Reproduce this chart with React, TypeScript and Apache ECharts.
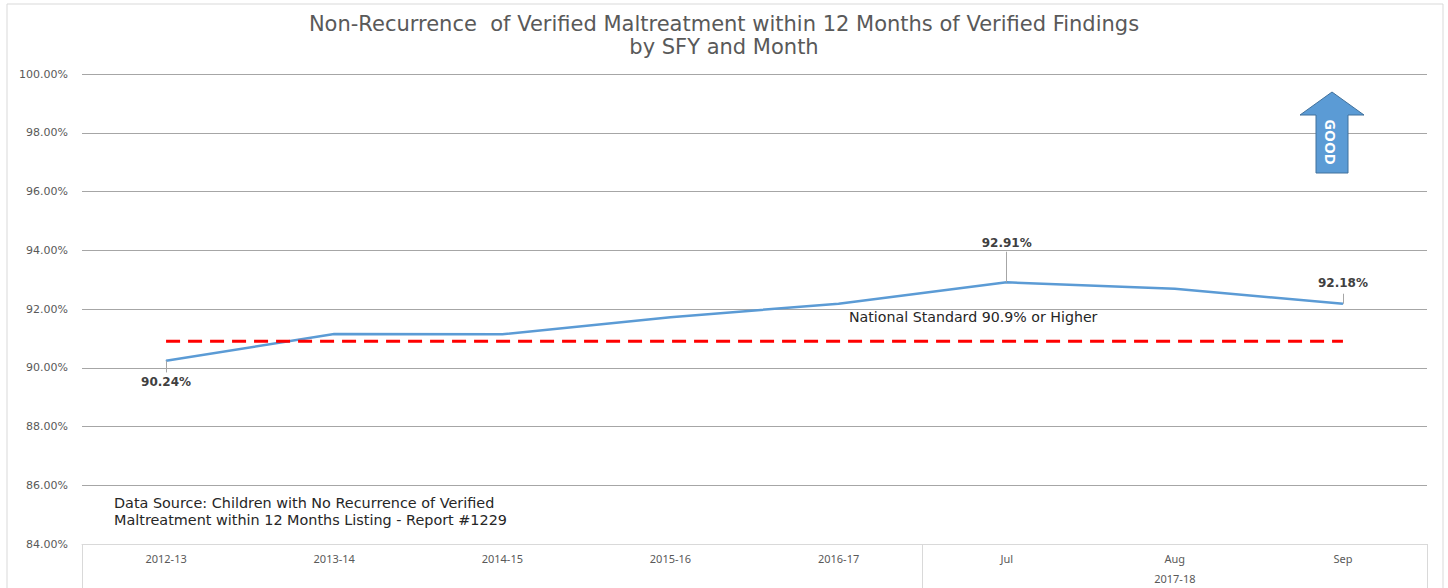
import React, { useEffect, useRef } from "react";
import * as echarts from "echarts";

const categories = ["2012-13", "2013-14", "2014-15", "2015-16", "2016-17", "Jul", "Aug", "Sep"];
const groupLabels = ["", "", "", "", "", "", "2017-18", ""];
const rateValues = [90.24, 91.15, 91.14, 91.72, 92.18, 92.91, 92.69, 92.18];
const nationalStandard = [90.9, 90.9, 90.9, 90.9, 90.9, 90.9, 90.9, 90.9];
const labelledIndices = [0, 5, 7];
const yTicks = { min: 84, max: 100, interval: 2 };

const FONT = "'Noto Sans', 'Open Sans', sans-serif";
const WIDE = "'DejaVu Sans', 'Noto Sans', sans-serif";

export default function App() {
  const ref = useRef<HTMLDivElement>(null);

  useEffect(() => {
    if (!ref.current) return;
    const chart = echarts.init(ref.current, null, { renderer: "svg" });

    const labelCfg: Record<number, { position: string; distance: number; leaderTo: number }> = {
      0: { position: "bottom", distance: 15, leaderTo: -0.4 },
      5: { position: "top", distance: 33, leaderTo: 1.04 },
      7: { position: "top", distance: 14, leaderTo: 0.34 },
    };

    const lineData = rateValues.map((v, i) => {
      if (labelledIndices.indexOf(i) >= 0) {
        const c = labelCfg[i];
        return {
          value: v,
          label: {
            show: true,
            position: c.position,
            distance: c.distance,
            formatter: (p: any) => p.value.toFixed(2) + "%",
            color: "#404040",
            fontSize: 12,
            fontWeight: "bold",
            fontFamily: WIDE,
          },
        };
      }
      return { value: v };
    });

    const leaderLines = labelledIndices.map((i) => [
      { coord: [i, rateValues[i]] },
      { coord: [i, rateValues[i] + labelCfg[i].leaderTo] },
    ]);

    chart.setOption({
      animation: false,
      backgroundColor: "#ffffff",
      title: {
        text: "Non-Recurrence  of Verified Maltreatment within 12 Months of Verified Findings\nby SFY and Month",
        left: "center",
        top: 7,
        textStyle: {
          color: "#595959",
          fontSize: 21,
          fontWeight: "normal",
          fontFamily: WIDE,
          lineHeight: 23,
        },
      },
      grid: { left: 82, right: 21, top: 74, bottom: 44, containLabel: false },
      xAxis: [
        {
          type: "category",
          data: categories,
          boundaryGap: true,
          axisLine: { show: true, lineStyle: { color: "#d9d9d9", width: 1 } },
          axisTick: {
            show: true,
            length: 44,
            interval: (index: number) => index === 0 || index === 5,
            lineStyle: { color: "#d9d9d9", width: 1 },
          },
          axisLabel: { interval: 0, color: "#595959", fontSize: 11, margin: 9, fontFamily: FONT },
          splitLine: { show: false },
        },
        {
          type: "category",
          data: groupLabels,
          position: "bottom",
          offset: 20,
          boundaryGap: true,
          axisLine: { show: false },
          axisTick: { show: false },
          axisLabel: { interval: 0, color: "#595959", fontSize: 11, margin: 9, fontFamily: FONT },
          splitLine: { show: false },
        },
      ],
      yAxis: {
        type: "value",
        min: yTicks.min,
        max: yTicks.max,
        interval: yTicks.interval,
        axisLine: { show: false },
        axisTick: { show: false },
        axisLabel: {
          color: "#595959",
          fontSize: 11,
          margin: 14,
          fontFamily: WIDE,
          formatter: (v: number) => v.toFixed(2) + "%",
        },
        splitLine: { show: true, lineStyle: { color: "#a6a6a6", width: 1 } },
      },
      series: [
        {
          type: "line",
          data: lineData,
          xAxisIndex: 0,
          symbol: "circle",
          symbolSize: 1,
          showSymbol: true,
          itemStyle: { color: "#5B9BD5" },
          lineStyle: { color: "#5B9BD5", width: 2.5 },
          z: 3,
          markLine: {
            silent: true,
            symbol: ["none", "none"],
            label: { show: false },
            lineStyle: { color: "#a6a6a6", width: 1, type: "solid" },
            data: leaderLines,
          },
        },
        {
          type: "line",
          data: nationalStandard,
          xAxisIndex: 0,
          symbol: "none",
          lineStyle: { color: "#FF0000", width: 3, type: [14, 8] },
          z: 4,
        },
      ],
      graphic: [
        {
          type: "rect",
          shape: { x: 7, y: 4, width: 1436, height: 600 },
          style: { fill: "none", stroke: "#d9d9d9", lineWidth: 1 },
          silent: true,
          z: -1,
        },
        {
          type: "text",
          left: 114,
          top: 494,
          style: {
            text: "Data Source: Children with No Recurrence of Verified\nMaltreatment within 12 Months Listing - Report #1229",
            fill: "#262626",
            fontSize: 14.4,
            fontFamily: WIDE,
            lineHeight: 17,
          },
        },
        {
          type: "text",
          left: 849,
          top: 310,
          style: {
            text: "National Standard 90.9% or Higher",
            fill: "#262626",
            fontSize: 14.2,
            fontFamily: WIDE,
          },
        },
        {
          type: "polygon",
          shape: {
            points: [
              [1332, 92],
              [1364, 115],
              [1348, 115],
              [1348, 173],
              [1316, 173],
              [1316, 115],
              [1300, 115],
            ],
          },
          style: { fill: "#5B9BD5", stroke: "#41719C", lineWidth: 1 },
          z: 10,
        },
        {
          type: "text",
          x: 1331,
          y: 142,
          rotation: -Math.PI / 2,
          style: {
            text: "GOOD",
            fill: "#ffffff",
            fontSize: 15,
            fontWeight: "bold",
            fontFamily: FONT,
            align: "center",
            verticalAlign: "middle",
          },
          z: 11,
        },
      ],
    });

    return () => chart.dispose();
  }, []);

  return (
    <div
      ref={ref}
      style={{ position: "fixed", left: 0, top: 0, width: 1448, height: 588 }}
    />
  );
}
